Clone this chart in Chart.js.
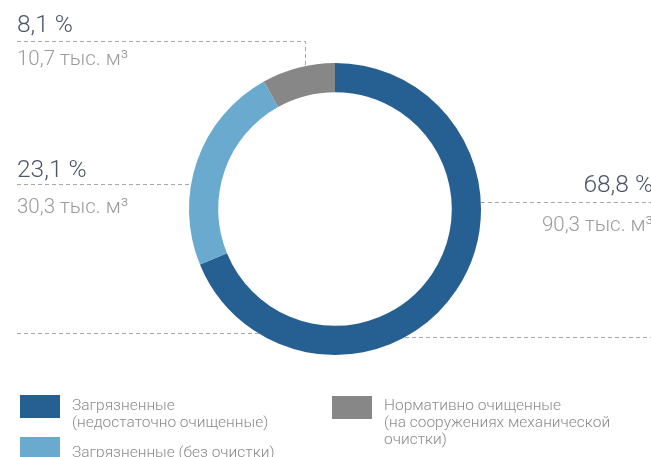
<!DOCTYPE html>
<html>
<head>
<meta charset="utf-8">
<script src="https://cdn.jsdelivr.net/npm/chart.js@4/dist/chart.umd.min.js"></script>
<style>
    html, body { margin: 0; padding: 0; background: #fff; }
    body { width: 651px; height: 457px; overflow: hidden; position: relative;
        font-family: Roboto, 'Noto Sans', sans-serif; font-weight: 300; }
    #wrap { position: absolute; left: 0; top: 0; width: 651px; height: 457px; }
    .pct { position: absolute; font-size: 24.5px; line-height: 24.5px; color: #4b5566; white-space: nowrap; }
    .vol { position: absolute; font-size: 20.5px; line-height: 20.5px; color: #9b9b9b; white-space: nowrap; }
    .right { text-align: right; }
    .leg { position: absolute; font-size: 15.5px; line-height: 16.8px; color: #8c8c8c; white-space: nowrap; }
    .sw { position: absolute; width: 40px; height: 23px; }
</style>
</head>
<body>
<div id="wrap"><canvas id="pie" width="651" height="457"></canvas></div>
<div id="labels"></div>
<div id="legend"></div>
<script>
const categories = [
    ['Загрязненные', '(недостаточно очищенные)'],
    ['Загрязненные (без очистки)'],
    ['Нормативно очищенные', '(на сооружениях механической', 'очистки)'],
];
const shares = [68.8, 23.1, 8.1];
const volumes = ['90,3', '30,3', '10,7'];
const colors = ['#265f91', '#6aaacf', '#878787'];

// where each slice's label sits
const labelPos = [
    { right: -2, pctTop: 172, volTop: 214 },
    { left: 17, pctTop: 157, volTop: 196 },
    { left: 17, pctTop: 12, volTop: 48 },
];

const fmt = v => v.toFixed(1).replace('.', ',');

const labelsEl = document.getElementById('labels');
shares.forEach((v, i) => {
    const p = labelPos[i];
    const isRight = p.right !== undefined;
    const a = document.createElement('div');
    a.className = 'pct' + (isRight ? ' right' : '');
    a.textContent = fmt(v) + ' %';
    const b = document.createElement('div');
    b.className = 'vol' + (isRight ? ' right' : '');
    b.textContent = volumes[i] + ' тыс. м³';
    [[a, p.pctTop], [b, p.volTop]].forEach(([el, t]) => {
        el.style.top = t + 'px';
        if (isRight) el.style.right = p.right + 'px';
        else el.style.left = p.left + 'px';
        labelsEl.appendChild(el);
    });
});

// legend
const legendPos = [
    { x: 20, y: 395, textY: 397 },
    { x: 20, y: 437, textY: 444 },
    { x: 332, y: 396, textY: 397 },
];
const legendEl = document.getElementById('legend');
categories.forEach((lines, i) => {
    const p = legendPos[i];
    const sw = document.createElement('div');
    sw.className = 'sw';
    sw.style.left = p.x + 'px';
    sw.style.top = p.y + 'px';
    sw.style.background = colors[i];
    legendEl.appendChild(sw);
    const t = document.createElement('div');
    t.className = 'leg';
    t.style.left = (p.x + 52) + 'px';
    t.style.top = p.textY + 'px';
    t.innerHTML = lines.join('<br>');
    legendEl.appendChild(t);
});

// dashed leader lines, drawn behind the ring
const leaders = {
    id: 'leaders',
    beforeDatasetsDraw(chart) {
        const arc = chart.getDatasetMeta(0).data[0];
        const cx = arc.x, cy = arc.y, r = arc.outerRadius;
        const edgeX = y => Math.sqrt(r * r - (y - cy) * (y - cy));
        const edgeY = x => cy - Math.sqrt(r * r - (x - cx) * (x - cx));
        const ctx = chart.ctx;
        ctx.save();
        ctx.strokeStyle = '#a8a8a8';
        ctx.lineWidth = 1;
        ctx.setLineDash([4, 3]);
        const seg = pts => {
            ctx.beginPath();
            ctx.moveTo(pts[0][0], pts[0][1]);
            pts.slice(1).forEach(p => ctx.lineTo(p[0], p[1]));
            ctx.stroke();
        };
        seg([[cx + edgeX(202.5), 202.5], [651, 202.5]]);
        seg([[17, 184.5], [cx - edgeX(184.5), 184.5]]);
        seg([[17, 41.5], [305.5, 41.5], [305.5, edgeY(305.5)]]);
        seg([[17, 333.5], [cx, 333.5]]);
        seg([[cx, 337.5], [651, 337.5]]);
        ctx.restore();
    },
};

new Chart(document.getElementById('pie'), {
    type: 'doughnut',
    data: {
        labels: categories.map(c => c.join(' ')),
        datasets: [{
            data: shares,
            backgroundColor: colors,
            borderWidth: 0,
        }],
    },
    options: {
        responsive: false,
        animation: false,
        cutout: '80%',
        layout: { padding: { left: 189, right: 170, top: 63, bottom: 102 } },
        plugins: { legend: { display: false }, tooltip: { enabled: false } },
    },
    plugins: [leaders],
});
</script>
</body>
</html>
